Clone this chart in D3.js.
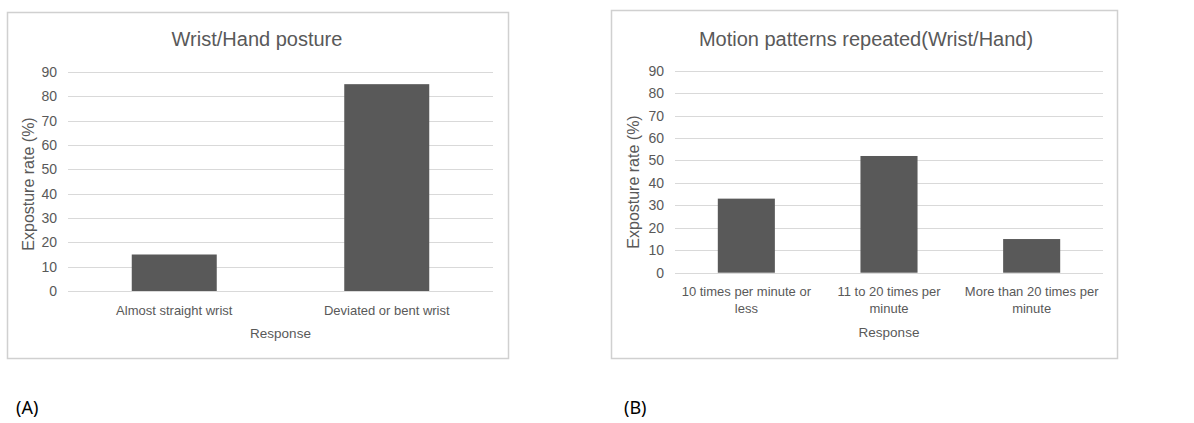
<!DOCTYPE html>
<html>
<head>
<meta charset="utf-8">
<script src="https://cdn.jsdelivr.net/npm/d3@7"></script>
<style>
  body { margin: 0; background: #fff; }
  text { font-family: "Liberation Sans", Arial, sans-serif; fill: #595959; }
</style>
</head>
<body>
<svg id="chart" width="1194" height="423"></svg>
<script>
var postureCategories = ['Almost straight wrist', 'Deviated or bent wrist'];
var postureValues = [15, 85];
var motionCategories = [['10 times per minute or', 'less'], ['11 to 20 times per', 'minute'], ['More than 20 times per', 'minute']];
var motionValues = [33, 52, 15];
var yTicks = [0, 10, 20, 30, 40, 50, 60, 70, 80, 90];

var svg = d3.select('#chart');

function drawPanel(opts) {
  var g = svg.append('g');
  g.append('rect')
    .attr('x', opts.box[0] + 0.5).attr('y', opts.box[1] + 0.5)
    .attr('width', opts.box[2]).attr('height', opts.box[3])
    .attr('fill', '#fff').attr('stroke', '#d0d0d0').attr('stroke-width', 1.5);

  g.append('text')
    .attr('x', opts.titleX).attr('y', opts.titleY)
    .attr('text-anchor', 'middle').style('font-size', '20px')
    .text(opts.title);

  var x = d3.scaleBand()
    .domain(d3.range(opts.values.length))
    .range([opts.left, opts.right])
    .paddingInner(0.6).paddingOuter(0.3);
  var y = d3.scaleLinear().domain([0, 90]).range([opts.bottom, opts.top]);

  // gridlines
  g.selectAll('.grid').data(yTicks).enter().append('line')
    .attr('x1', opts.left).attr('x2', opts.right)
    .attr('y1', function(d) { return Math.round(y(d)) + 0.5; })
    .attr('y2', function(d) { return Math.round(y(d)) + 0.5; })
    .attr('stroke', '#d9d9d9').attr('stroke-width', 1);

  var yAxis = d3.axisLeft(y).tickValues(yTicks).tickSize(0).tickPadding(11);
  var ya = g.append('g').attr('transform', 'translate(' + opts.left + ',0)').call(yAxis);
  ya.select('.domain').remove();
  ya.selectAll('text').style('font-size', '14px').attr('fill', '#595959')
    .style('font-family', '"Liberation Sans", Arial, sans-serif');

  g.selectAll('.bar').data(opts.values).enter().append('rect')
    .attr('x', function(d, i) { return x(i); })
    .attr('y', function(d) { return y(d); })
    .attr('width', x.bandwidth())
    .attr('height', function(d) { return y(0) - y(d); })
    .attr('fill', '#595959');

  var labels = g.selectAll('.xl').data(opts.categories).enter().append('text')
    .attr('text-anchor', 'middle').style('font-size', '13px')
    .attr('transform', function(d, i) {
      return 'translate(' + (x(i) + x.bandwidth() / 2) + ',' + opts.labelY + ')';
    });
  labels.each(function(d) {
    var lines = Array.isArray(d) ? d : [d];
    var t = d3.select(this);
    lines.forEach(function(line, k) {
      t.append('tspan').attr('x', 0).attr('dy', k === 0 ? 0 : 17).text(line);
    });
  });

  g.append('text')
    .attr('x', (opts.left + opts.right) / 2).attr('y', opts.xTitleY)
    .attr('text-anchor', 'middle').style('font-size', '13.5px')
    .text('Response');

  g.append('text')
    .attr('transform', 'translate(' + opts.yTitleX + ',' + opts.yTitleY + ') rotate(-90)')
    .attr('text-anchor', 'middle').style('font-size', '16px')
    .text('Exposture rate (%)');

  svg.append('text')
    .attr('x', opts.tagX).attr('y', 414)
    .style('font-family', '"Noto Sans", sans-serif').style('font-size', '18px')
    .style('fill', '#000')
    .text(opts.tag);
}

drawPanel({
  box: [7, 12, 501, 346],
  title: 'Wrist/Hand posture',
  titleX: 257, titleY: 46,
  left: 68, right: 493, top: 72, bottom: 291,
  values: postureValues, categories: postureCategories,
  labelY: 315, xTitleY: 338, yTitleX: 34, yTitleY: 184,
  tag: '(A)', tagX: 16
});

drawPanel({
  box: [611, 10, 506, 348],
  title: 'Motion patterns repeated(Wrist/Hand)',
  titleX: 866, titleY: 46,
  left: 675, right: 1103, top: 70.7, bottom: 272.7,
  values: motionValues, categories: motionCategories,
  labelY: 296, xTitleY: 337, yTitleX: 639, yTitleY: 182,
  tag: '(B)', tagX: 624
});
</script>
</body>
</html>
